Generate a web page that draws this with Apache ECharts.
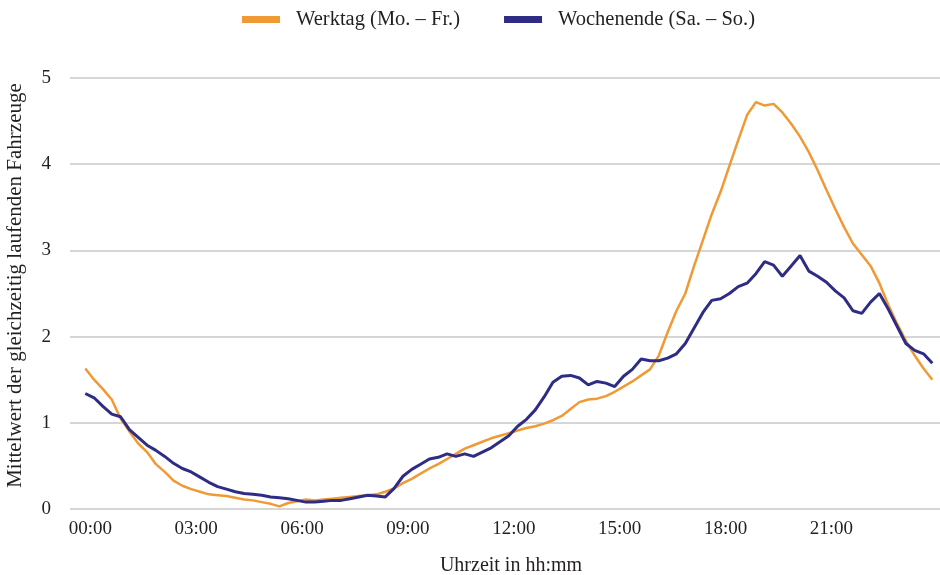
<!DOCTYPE html>
<html>
<head>
<meta charset="utf-8">
<script src="https://cdn.jsdelivr.net/npm/echarts@6/dist/echarts.min.js"></script>
<style>
html,body{margin:0;padding:0;background:#fff;}
#chart{width:940px;height:575px;}
</style>
</head>
<body>
<div id="chart"></div>
<script>
// Time of day in minutes (15-minute steps)
const minutes = [0,15,30,45,60,75,90,105,120,135,150,165,180,195,210,225,240,255,270,285,300,315,330,345,360,375,390,405,420,435,450,465,480,495,510,525,540,555,570,585,600,615,630,645,660,675,690,705,720,735,750,765,780,795,810,825,840,855,870,885,900,915,930,945,960,975,990,1005,1020,1035,1050,1065,1080,1095,1110,1125,1140,1155,1170,1185,1200,1215,1230,1245,1260,1275,1290,1305,1320,1335,1350,1365,1380,1395,1410,1425,1440];

// Werktag (Mo. – Fr.)
const werktag = [1.63,1.50,1.39,1.27,1.05,0.90,0.76,0.66,0.52,0.43,0.33,0.27,0.23,0.20,0.17,0.16,0.15,0.13,0.11,0.10,0.08,0.06,0.03,0.07,0.09,0.11,0.10,0.11,0.12,0.13,0.14,0.15,0.16,0.17,0.20,0.24,0.30,0.35,0.41,0.47,0.52,0.58,0.64,0.70,0.74,0.78,0.82,0.85,0.88,0.91,0.94,0.96,0.99,1.03,1.08,1.16,1.24,1.27,1.28,1.31,1.36,1.42,1.48,1.55,1.62,1.78,2.05,2.30,2.50,2.82,3.12,3.42,3.68,3.98,4.28,4.57,4.72,4.68,4.70,4.60,4.47,4.32,4.14,3.93,3.70,3.48,3.27,3.08,2.95,2.82,2.62,2.37,2.15,1.95,1.78,1.63,1.50];

// Wochenende (Sa. – So.)
const wochenende = [1.34,1.29,1.19,1.10,1.07,0.92,0.83,0.74,0.68,0.61,0.53,0.47,0.43,0.37,0.31,0.26,0.23,0.20,0.18,0.17,0.16,0.14,0.13,0.12,0.10,0.08,0.08,0.09,0.10,0.10,0.12,0.14,0.16,0.15,0.14,0.24,0.38,0.46,0.52,0.58,0.60,0.64,0.61,0.64,0.61,0.66,0.71,0.78,0.85,0.96,1.04,1.15,1.30,1.47,1.54,1.55,1.52,1.44,1.48,1.46,1.42,1.54,1.62,1.74,1.72,1.72,1.75,1.80,1.92,2.10,2.28,2.42,2.44,2.50,2.58,2.62,2.73,2.87,2.83,2.70,2.82,2.94,2.76,2.70,2.63,2.53,2.45,2.30,2.27,2.40,2.50,2.32,2.12,1.92,1.84,1.80,1.69];

// X tick labels
const tickMinutes = [0,180,360,540,720,900,1080,1260];
const tickLabels = ['00:00','03:00','06:00','09:00','12:00','15:00','18:00','21:00'];

const seriesNames = ['Werktag (Mo. – Fr.)','Wochenende (Sa. – So.)'];
const FONT = '"Liberation Serif","Times New Roman",serif';

const chart = echarts.init(document.getElementById('chart'), null, {renderer:'canvas'});
chart.setOption({
  animation:false,
  backgroundColor:'#ffffff',
  legend:{
    top:4, left:237,
    itemWidth:38, itemHeight:7, itemGap:44,
    icon:'rect',
    textStyle:{fontFamily:FONT,fontSize:20.5,color:'#231f20',padding:[0,0,0,11]},
    data:seriesNames
  },
  grid:{left:70,right:0,top:78,bottom:66,containLabel:false,outerBoundsMode:'none'},
  xAxis:{
    type:'value', min:-26, max:1453,
    name:'Uhrzeit in hh:mm', nameLocation:'middle', nameGap:47,
    nameTextStyle:{fontFamily:FONT,fontSize:20,color:'#231f20',padding:[0,0,0,12]},
    axisLine:{show:false}, axisTick:{show:false}, splitLine:{show:false},
    axisLabel:{
      customValues:tickMinutes,
      formatter:function(v){const i=tickMinutes.indexOf(v);return i>=0?tickLabels[i]:'';},
      fontFamily:FONT,fontSize:19,color:'#231f20',margin:11,padding:[0,0,0,10]
    }
  },
  yAxis:{
    type:'value', min:0, max:5, interval:1,
    name:'Mittelwert der gleichzeitig laufenden Fahrzeuge', nameLocation:'middle', nameGap:44,
    nameTextStyle:{fontFamily:FONT,fontSize:21,color:'#231f20',padding:[0,0,0,16]},
    axisLine:{show:false}, axisTick:{show:false},
    axisLabel:{fontFamily:FONT,fontSize:19,color:'#231f20',margin:19},
    splitLine:{lineStyle:{color:'#d6d6d6',width:2}}
  },
  series:[
    {name:seriesNames[0],type:'line',symbol:'none',
     data:minutes.map((m,i)=>[m,werktag[i]]),
     lineStyle:{color:'#ef9a35',width:2.5},itemStyle:{color:'#ef9a35'}},
    {name:seriesNames[1],type:'line',symbol:'none',
     data:minutes.map((m,i)=>[m,wochenende[i]]),
     lineStyle:{color:'#2e2c85',width:3},itemStyle:{color:'#2e2c85'}}
  ]
});
</script>
</body>
</html>
